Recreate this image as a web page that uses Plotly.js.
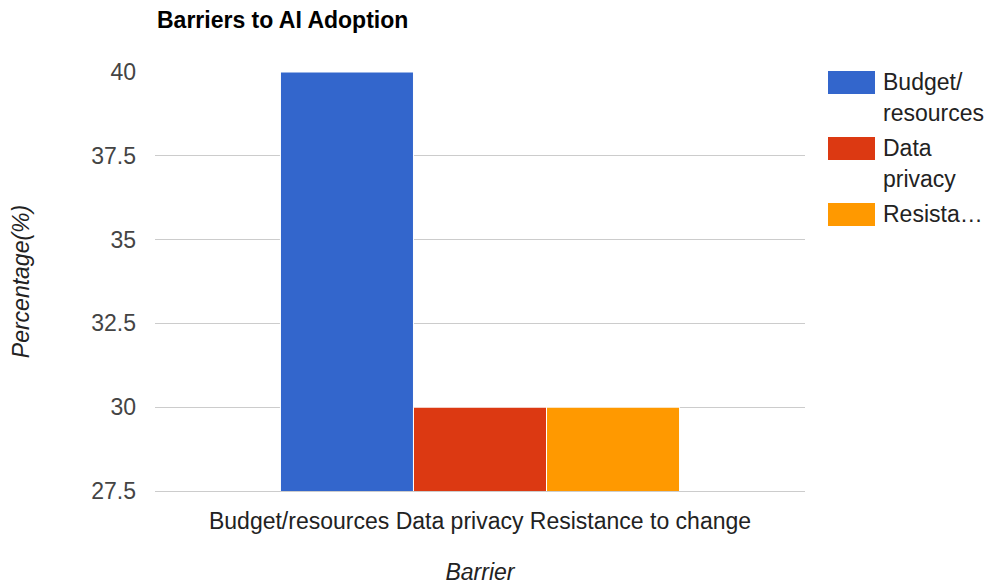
<!DOCTYPE html>
<html>
<head>
<meta charset="utf-8">
<script src="https://cdn.plot.ly/plotly-3.0.1.min.js"></script>
<style>
  html, body { margin: 0; padding: 0; background: #fff; }
  #chart { width: 988px; height: 585px; }
</style>
</head>
<body>
<div id="chart"></div>
<script>
// ---- Data ----
const barriers = ['Budget/resources', 'Data privacy', 'Resistance to change'];
const percentages = [40, 30, 30];
const seriesColors = ['#3366cc', '#dc3912', '#ff9900'];
const legendLabels = [['Budget/', 'resources'], ['Data', 'privacy'], ['Resista\u2026']];
const yTickValues = [27.5, 30, 32.5, 35, 37.5, 40];
const chartTitle = 'Barriers to AI Adoption';
const xTitle = 'Barrier';
const yTitle = 'Percentage(%)';

// ---- Layout geometry ----
const W = 988, H = 585;
const M = { l: 155, r: 183, t: 72, b: 94 };
const PW = W - M.l - M.r, PH = H - M.t - M.b;
const px2x = x => (x - M.l) / PW;
const px2y = y => (H - M.b - y) / PH;
const FONT = '"Liberation Sans", Arial, sans-serif';
const FS = 23;

const categoryLabel = barriers.join(' ');

const traces = barriers.map((name, i) => ({
  type: 'bar',
  name: name,
  x: [categoryLabel],
  y: [percentages[i]],
  marker: { color: seriesColors[i], line: { color: '#ffffff', width: 1 } },
  showlegend: false,
  hoverinfo: 'name+y'
}));

// custom legend (large swatches like the reference)
const shapes = [];
const annotations = [];
const swTop = [71, 137, 203];
legendLabels.forEach((lines, i) => {
  shapes.push({
    type: 'rect', xref: 'paper', yref: 'paper',
    x0: px2x(828), x1: px2x(875),
    y0: px2y(swTop[i]), y1: px2y(swTop[i] + 23),
    fillcolor: seriesColors[i], line: { width: 0 }
  });
  lines.forEach((ln, j) => {
    annotations.push({
      xref: 'paper', yref: 'paper',
      x: px2x(881), y: px2y(swTop[i] + 11 + j * 31),
      xanchor: 'left', yanchor: 'middle',
      text: ln, showarrow: false,
      font: { family: FONT, size: FS, color: '#222222' }
    });
  });
});

const layout = {
  width: W, height: H,
  margin: M,
  paper_bgcolor: '#ffffff',
  plot_bgcolor: '#ffffff',
  font: { family: FONT, size: FS, color: '#444444' },
  title: {
    text: '<b>' + chartTitle + '</b>',
    xref: 'container', yref: 'container',
    x: 157 / W, xanchor: 'left',
    y: 1 - 20 / H, yanchor: 'middle',
    font: { family: FONT, size: FS, color: '#000000' }
  },
  barmode: 'group',
  bargap: 0.386,
  bargroupgap: 0,
  xaxis: {
    type: 'category',
    showgrid: false, zeroline: false,
    showline: true, linecolor: '#cccccc', linewidth: 1,
    ticks: '', ticklabelstandoff: 9,
    tickfont: { family: FONT, size: FS, color: '#222222' },
    title: { text: '<i>' + xTitle + '</i>', standoff: 36,
             font: { family: FONT, size: FS, color: '#222222' } }
  },
  yaxis: {
    range: [27.5, 40],
    tickmode: 'array', tickvals: yTickValues,
    ticktext: yTickValues.map(v => String(v)),
    showgrid: true, gridcolor: '#cccccc', gridwidth: 1,
    zeroline: false, showline: false,
    ticks: '', ticklabelstandoff: 18,
    tickfont: { family: FONT, size: FS, color: '#444444' },
    title: { text: '<i>' + yTitle + '</i>', standoff: 55,
             font: { family: FONT, size: FS, color: '#222222' } }
  },
  shapes: shapes,
  annotations: annotations
};

Plotly.newPlot('chart', traces, layout, { displayModeBar: false, responsive: false });
</script>
</body>
</html>
